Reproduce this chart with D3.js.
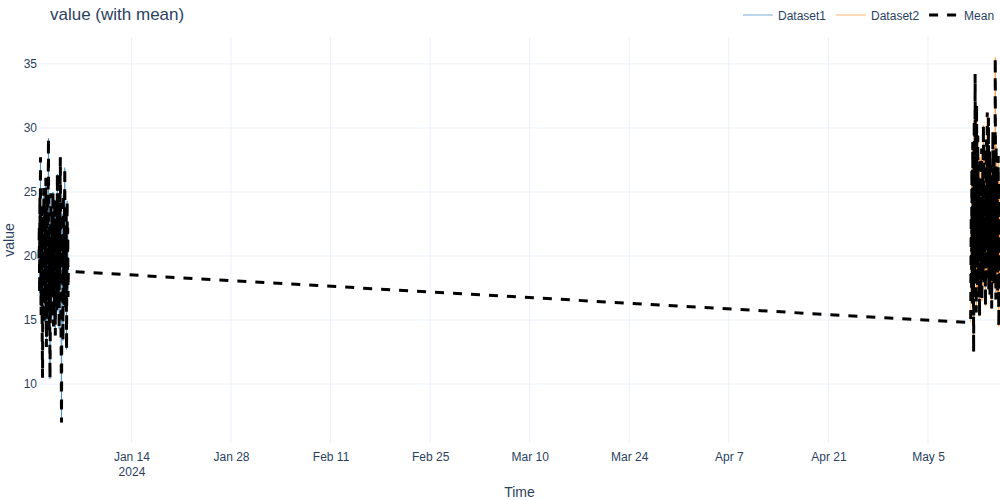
<!DOCTYPE html>
<html>
<head>
<meta charset="utf-8">
<script src="https://cdn.jsdelivr.net/npm/d3@7"></script>
<style>
  html, body { margin: 0; padding: 0; background: #fff; }
  svg { display: block; font-family: "Liberation Sans", Arial, sans-serif; }
</style>
</head>
<body>
<svg id="chart" width="1000" height="500"></svg>
<script>
// ---------------- DATA ----------------
const seriesNames = ["Dataset1", "Dataset2"];
const dataset1Start = "2024-01-01T00:00:00Z"; // hourly
const dataset2Start = "2024-05-11T00:00:00Z"; // hourly
const dataset1Values = [
  19.8, 22.4, 17.1, 24.6, 20.3, 27.7, 18.2, 15.4, 21.9, 23.8,
  16.7, 13.2, 10.5, 19.4, 22.8, 17.6, 25.3, 20.1, 14.8, 18.9,
  23.4, 21.2, 16.3, 26.1, 19.7, 12.9, 17.8, 24.2, 21.6, 15.9,
  20.8, 25.7, 29.2, 18.4, 14.1, 22.3, 16.9, 10.4, 13.6, 20.7,
  24.9, 18.1, 21.4, 15.2, 23.1, 19.3, 17.4, 25.0, 22.6, 14.5,
  18.7, 21.8, 16.1, 24.4, 20.2, 13.8, 19.9, 23.7, 17.2, 22.1,
  15.6, 20.5, 26.4, 18.3, 21.1, 16.6, 24.1, 19.0, 14.3, 22.9,
  17.9, 25.5, 27.7, 20.6, 15.1, 11.8, 7.0, 16.4, 23.3, 19.6,
  21.5, 13.4, 24.8, 18.6, 20.9, 16.2, 22.7, 26.9, 17.3, 21.7,
  15.8, 23.9, 19.2, 12.7, 20.4, 24.3, 18.0, 22.2, 16.8, 18.8
];
const dataset2Values = [
  14.8, 19.6, 23.2, 17.4, 26.8, 21.1, 16.3, 28.9, 18.7, 24.5,
  12.5, 20.3, 30.6, 22.8, 17.9, 34.2, 25.4, 19.1, 27.3, 15.6,
  31.8, 21.7, 24.9, 16.8, 29.4, 20.6, 23.8, 18.2, 26.1, 22.4,
  15.3, 27.7, 19.8, 24.2, 17.1, 25.9, 21.3, 28.4, 16.5, 23.6,
  20.1, 26.7, 18.6, 30.2, 22.9, 17.7, 25.1, 19.4, 27.9, 21.8,
  16.1, 24.7, 20.8, 29.1, 18.3, 23.4, 31.2, 22.1, 26.4, 19.7,
  30.8, 17.4, 25.6, 21.5, 28.2, 16.9, 24.1, 20.4, 27.1, 18.9,
  23.1, 15.9, 26.3, 22.6, 19.2, 29.7, 21.0, 24.6, 17.8, 27.5,
  20.7, 25.3, 18.4, 35.5, 23.7, 16.6, 28.6, 21.9, 26.0, 19.5,
  24.4, 17.2, 22.3, 27.8, 20.0, 14.5, 25.8, 21.4, 18.1, 23.3
];
const xTickDates = ["2024-01-14", "2024-01-28", "2024-02-11", "2024-02-25", "2024-03-10",
                    "2024-03-24", "2024-04-07", "2024-04-21", "2024-05-05"];
const yTickValues = [10, 15, 20, 25, 30, 35];
const legendLabels = ["Dataset1", "Dataset2", "Mean"];

// ---------------- BUILD ----------------
const HOUR = 3600 * 1000;
function toSeries(startIso, values) {
  const t0 = new Date(startIso).getTime();
  return values.map((v, i) => ({ t: new Date(t0 + i * HOUR), v }));
}
const s1 = toSeries(dataset1Start, dataset1Values);
const s2 = toSeries(dataset2Start, dataset2Values);
// mean across datasets at each timestamp
const meanMap = d3.rollup(s1.concat(s2), g => d3.mean(g, d => d.v), d => d.t.getTime());
const meanSeries = Array.from(meanMap, ([t, v]) => ({ t: new Date(t), v })).sort((a, b) => a.t - b.t);

const W = 1000, H = 500;
const margin = { left: 39, right: 0, top: 37, bottom: 57 };
const svg = d3.select("#chart");
const textColor = "#2a3f5f";
const gridColor = "#EBF0F8";

const allT = meanSeries.map(d => d.t);
const x = d3.scaleUtc().domain(d3.extent(allT)).range([margin.left, W - margin.right]);
const [vmin, vmax] = d3.extent(meanSeries, d => d.v);
const pad = (vmax - vmin) * 0.056;
const y = d3.scaleLinear().domain([vmin - pad, vmax + pad]).range([H - margin.bottom, margin.top]);

const tickDates = xTickDates.map(s => new Date(s + "T00:00:00Z"));
const fmtMD = d3.utcFormat("%b %-d");

// grid
const grid = svg.append("g");
grid.selectAll("line.vx").data(tickDates).join("line")
  .attr("x1", d => x(d)).attr("x2", d => x(d))
  .attr("y1", margin.top).attr("y2", H - margin.bottom)
  .attr("stroke", gridColor).attr("stroke-width", 1);
grid.selectAll("line.hy").data(yTickValues).join("line")
  .attr("x1", margin.left).attr("x2", W - margin.right)
  .attr("y1", d => y(d)).attr("y2", d => y(d))
  .attr("stroke", gridColor).attr("stroke-width", 1);

// axes (using d3 axis for labels)
const xAxis = d3.axisBottom(x).tickValues(tickDates).tickSize(0).tickPadding(0).tickFormat(() => "");
const gx = svg.append("g").attr("transform", `translate(0,${H - margin.bottom})`).call(xAxis);
gx.select(".domain").remove();
gx.selectAll(".tick").each(function (d, i) {
  const t = d3.select(this).select("text").text(null)
    .attr("fill", textColor).attr("font-size", 12)
    .attr("font-family", '"Liberation Sans", Arial, sans-serif')
    .attr("y", 0).attr("dy", null);
  t.append("tspan").attr("x", 0).attr("y", 18).text(fmtMD(d));
  if (i === 0) t.append("tspan").attr("x", 0).attr("y", 33).text(d3.utcFormat("%Y")(d));
});

const yAxis = d3.axisLeft(y).tickValues(yTickValues).tickSize(0).tickPadding(2);
const gy = svg.append("g").attr("transform", `translate(${margin.left},0)`).call(yAxis);
gy.select(".domain").remove();
gy.selectAll("text").attr("fill", textColor).attr("font-size", 12)
  .attr("font-family", '"Liberation Sans", Arial, sans-serif');

// lines
const line = d3.line().x(d => x(d.t)).y(d => y(d.v));
const plot = svg.append("g");
plot.append("path").datum(s1).attr("d", line).attr("fill", "none")
  .attr("stroke", "#1f77b4").attr("stroke-opacity", 0.6).attr("stroke-width", 1);
plot.append("path").datum(s2).attr("d", line).attr("fill", "none")
  .attr("stroke", "#ff7f0e").attr("stroke-opacity", 0.6).attr("stroke-width", 1);
plot.append("path").datum(meanSeries).attr("d", line).attr("fill", "none")
  .attr("stroke", "#000").attr("stroke-width", 3).attr("stroke-dasharray", "9,9");

// titles
svg.append("text").attr("x", 50).attr("y", 19.5).attr("fill", textColor)
  .attr("font-size", 17).text("value (with mean)");
svg.append("text").attr("x", (margin.left + W - margin.right) / 2).attr("y", 497)
  .attr("text-anchor", "middle").attr("fill", textColor).attr("font-size", 14).text("Time");
svg.append("text").attr("transform", `translate(14,${(margin.top + H - margin.bottom) / 2}) rotate(-90)`)
  .attr("text-anchor", "middle").attr("fill", textColor).attr("font-size", 14).text("value");

// legend
const legendStyles = [
  { stroke: "#1f77b4", opacity: 0.6, width: 1, dash: null },
  { stroke: "#ff7f0e", opacity: 0.6, width: 1, dash: null },
  { stroke: "#000", opacity: 1, width: 3, dash: "9,9" }
];
let lx = 738;
const ly = 15;
legendLabels.forEach((lab, i) => {
  const g = svg.append("g").attr("transform", `translate(${lx},${ly})`);
  const st = legendStyles[i];
  g.append("line").attr("x1", 5).attr("x2", 35).attr("y1", 0).attr("y2", 0)
    .attr("stroke", st.stroke).attr("stroke-opacity", st.opacity)
    .attr("stroke-width", st.width).attr("stroke-dasharray", st.dash);
  const t = g.append("text").attr("x", 40).attr("y", 4.5).attr("fill", textColor)
    .attr("font-size", 12).text(lab);
  lx += 40 + t.node().getComputedTextLength() + 5;
});
</script>
</body>
</html>
